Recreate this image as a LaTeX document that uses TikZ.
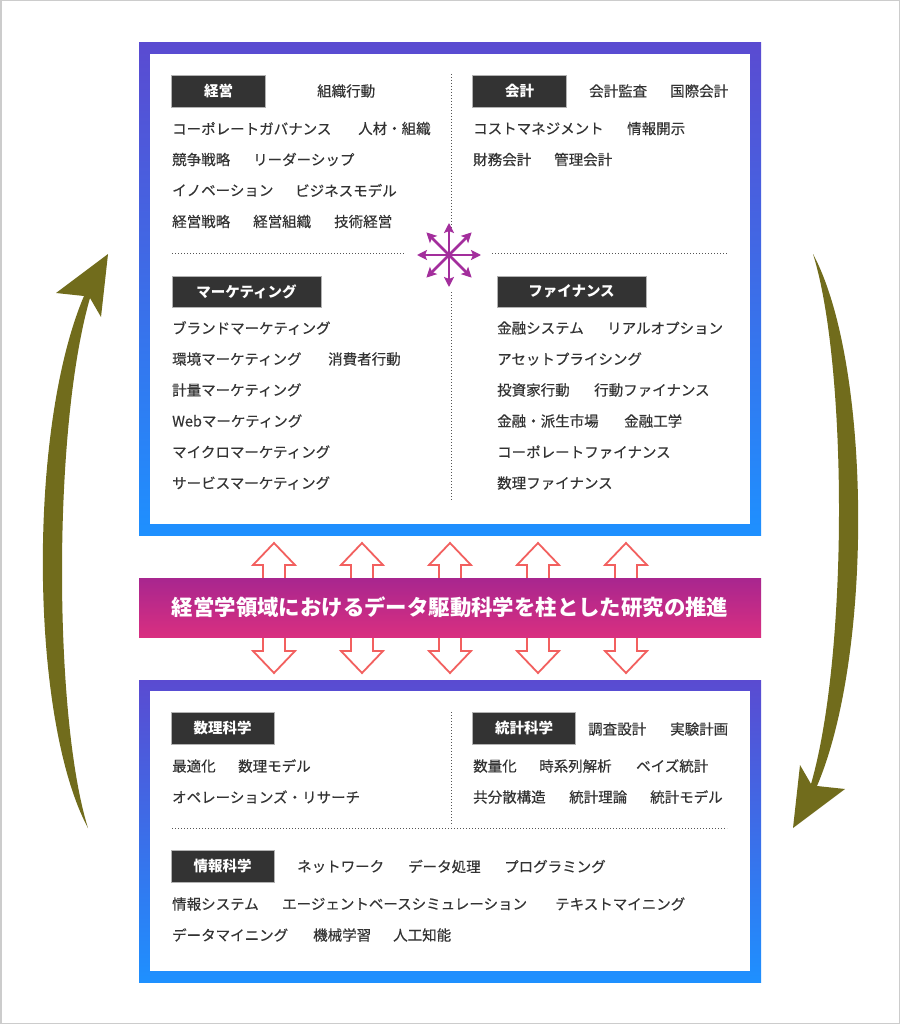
\documentclass[tikz,border=0pt]{standalone}
\usepackage{fontspec}
\setmainfont{Noto Sans CJK JP}
\newfontfamily\itemfont{Noto Sans CJK JP}[FakeBold=0.35]
\usetikzlibrary{arrows.meta}
\definecolor{frametop}{HTML}{5A4BD1}
\definecolor{framebot}{HTML}{1E90FF}
\definecolor{bantop}{HTML}{A8268F}
\definecolor{banbot}{HTML}{D92F80}
\definecolor{txtc}{HTML}{333333}
\definecolor{tagc}{HTML}{333333}
\definecolor{arrred}{HTML}{F2605F}
\definecolor{cycleolive}{HTML}{716C1C}
\definecolor{starc}{HTML}{A32E9C}
\definecolor{dotc}{HTML}{555555}
\tikzset{
  item/.style={anchor=west, inner sep=0pt, text=txtc, font=\itemfont\fontsize{14.5}{17}\selectfont},
  tag/.style={fill=tagc, draw=gray!60, line width=0.6pt, text=white, inner sep=0pt,
              font=\fontsize{14.5}{17}\selectfont\bfseries},
  dotline/.style={dotc, line width=1pt, dash pattern=on 1pt off 2pt},
  dblarr/.style={draw=arrred, fill=white, line width=1.8pt, line join=miter},
  starline/.style={starc, line width=2.6pt, -{Stealth[length=10pt,width=10pt,inset=2pt]}},
}
\begin{document}
\begin{tikzpicture}[x=1pt,y=-1pt]
\useasboundingbox (0,0) rectangle (900,1024);
\fill[white] (0,0) rectangle (900,1024);
\draw[gray!40, line width=1.5pt] (0.75,0.75) rectangle (899.25,1023.25);

% ---------- double arrows (behind banner) ----------
\foreach \c in {274,362,450,538,626}{
  \path[dblarr] (\c,543) -- (\c+21,565) -- (\c+11,565) -- (\c+11,651) -- (\c+21,651)
    -- (\c,673) -- (\c-21,651) -- (\c-11,651) -- (\c-11,565) -- (\c-21,565) -- cycle;
}

% ---------- top box ----------
\shade[top color=frametop, bottom color=framebot] (139,43) rectangle (761,535);
\fill[white] (150,54) rectangle (750,524);

% ---------- banner ----------
\shade[top color=bantop, bottom color=banbot] (139,578) rectangle (761,637);
\node[text=white, font=\fontsize{21.4}{24}\selectfont\bfseries] (banner) at (450,607.5)
  {経営学領域におけるデータ駆動科学を柱とした研究の推進};

% ---------- bottom box ----------
\shade[top color=frametop, bottom color=framebot] (139,680) rectangle (761,982);
\fill[white] (150,691) rectangle (750,971);

% ---------- dotted separators ----------
\draw[dotline] (451,74) -- (451,232);
\draw[dotline] (451,292) -- (451,500);
\draw[dotline] (172,253) -- (404,253);
\draw[dotline] (492,253) -- (727,253);
\draw[dotline] (451,712) -- (451,826);
\draw[dotline] (172,828) -- (727,828);

% ---------- star ----------
\coordinate (star) at (449,255);
\foreach \a in {0,45,...,315}{
  \draw[starline] (star) -- ++(\a:32);
}

% ---------- 経営 ----------
\node[tag, minimum width=94pt, minimum height=32pt] (keiei) at (218.5,91) {経営};
\node[item] (k1) at (317,91) {組織行動};
\node[item] (k2) at (172,128.5) {コーポレートガバナンス};
\node[item] (k3) at (358,128.5) {人材・組織};
\node[item] (k4) at (172,159.5) {競争戦略};
\node[item] (k5) at (253,159.5) {リーダーシップ};
\node[item] (k6) at (172,190.5) {イノベーション};
\node[item] (k7) at (295,190.5) {ビジネスモデル};
\node[item] (k8) at (172,221.5) {経営戦略};
\node[item] (k9) at (253,221.5) {経営組織};
\node[item] (k10) at (334,221.5) {技術経営};

% ---------- 会計 ----------
\node[tag, minimum width=94pt, minimum height=32pt] (kaikei) at (519.5,91) {会計};
\node[item] (a1) at (589,91) {会計監査};
\node[item] (a2) at (670,91) {国際会計};
\node[item] (a3) at (473,128.5) {コストマネジメント};
\node[item] (a4) at (627,128.5) {情報開示};
\node[item] (a5) at (473,159.5) {財務会計};
\node[item] (a6) at (554,159.5) {管理会計};

% ---------- マーケティング ----------
\node[tag, minimum width=149pt, minimum height=31pt] (mkt) at (246.5,291.5) {マーケティング};
\node[item] (m1) at (172,328) {ブランドマーケティング};
\node[item] (m2) at (172,359) {環境マーケティング};
\node[item] (m3) at (328,359) {消費者行動};
\node[item] (m4) at (172,390) {計量マーケティング};
\node[item] (m5) at (172,421) {Webマーケティング};
\node[item] (m6) at (172,452) {マイクロマーケティング};
\node[item] (m7) at (172,483) {サービスマーケティング};

% ---------- ファイナンス ----------
\node[tag, minimum width=149pt, minimum height=31pt] (fin) at (571.5,291.5) {ファイナンス};
\node[item] (f1) at (497,328) {金融システム};
\node[item] (f2) at (607,328) {リアルオプション};
\node[item] (f3) at (497,359) {アセットプライシング};
\node[item] (f4) at (497,390) {投資家行動};
\node[item] (f5) at (594,390) {行動ファイナンス};
\node[item] (f6) at (497,421) {金融・派生市場};
\node[item] (f7) at (624,421) {金融工学};
\node[item] (f8) at (497,452) {コーポレートファイナンス};
\node[item] (f9) at (497,483) {数理ファイナンス};

% ---------- 数理科学 ----------
\node[tag, minimum width=103pt, minimum height=32pt] (suri) at (222.7,728.3) {数理科学};
\node[item] (s1) at (172,766) {最適化};
\node[item] (s2) at (238,766) {数理モデル};
\node[item] (s3) at (172,797) {オペレーションズ・リサーチ};

% ---------- 統計科学 ----------
\node[tag, minimum width=103pt, minimum height=32pt] (toukei) at (524,728.3) {統計科学};
\node[item] (t1) at (588,729) {調査設計};
\node[item] (t2) at (670,729) {実験計画};
\node[item] (t3) at (473,766) {数量化};
\node[item] (t4) at (539,766) {時系列解析};
\node[item] (t5) at (636,766) {ベイズ統計};
\node[item] (t6) at (473,797) {共分散構造};
\node[item] (t7) at (569,797) {統計理論};
\node[item] (t8) at (650,797) {統計モデル};

% ---------- 情報科学 ----------
\node[tag, minimum width=103pt, minimum height=32pt] (joho) at (222.7,866.2) {情報科学};
\node[item] (j1) at (297,866.5) {ネットワーク};
\node[item] (j2) at (408,866.5) {データ処理};
\node[item] (j3) at (504,866.5) {プログラミング};
\node[item] (j4) at (172,904) {情報システム};
\node[item] (j5) at (282,904) {エージェントベースシミュレーション};
\node[item] (j6) at (555,904) {テキストマイニング};
\node[item] (j7) at (172,935) {データマイニング};
\node[item] (j8) at (313,935) {機械学習};
\node[item] (j9) at (393,935) {人工知能};

% ---------- cycle arrows ----------
\def\cyclearrow{
  (88,828) .. controls (30,720) and (27,430) .. (84,296)
  -- (56,293) -- (108,254) -- (101,317) -- (90,298)
  .. controls (52,430) and (54,720) .. (88,828) -- cycle}
\fill[cycleolive] \cyclearrow;
\begin{scope}[rotate around={180:(450.5,541)}]
\fill[cycleolive] \cyclearrow;
\end{scope}
\end{tikzpicture}
\end{document}
